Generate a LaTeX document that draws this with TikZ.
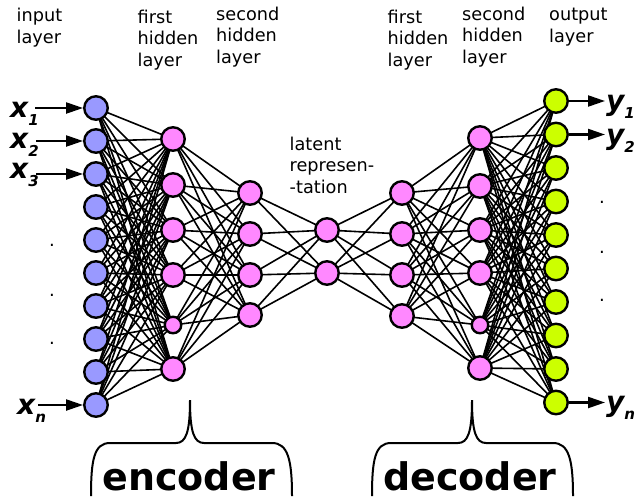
\documentclass[tikz,border=0pt]{standalone}
\usepackage{fontspec}
\setmainfont{DejaVu Sans}
\usetikzlibrary{arrows.meta,backgrounds}
\definecolor{inblue}{HTML}{9999FF}
\definecolor{hpink}{HTML}{FF88FF}
\definecolor{outgreen}{HTML}{CCFF00}
\newcommand\iolabel[2]{{\fontsize{28}{28}\selectfont\bfseries\itshape #1}\raisebox{-8pt}{\fontsize{15}{15}\selectfont\bfseries\itshape #2}}
\begin{document}
\begin{tikzpicture}[x=1pt,y=-1pt,
  neuron/.style={circle,draw=black,line width=2.4pt,minimum size=23.5pt,inner sep=0pt},
  inneuron/.style={neuron,fill=inblue},
  hidneuron/.style={neuron,fill=hpink},
  smallneuron/.style={neuron,fill=hpink,minimum size=16.5pt},
  outneuron/.style={neuron,fill=outgreen},
  link/.style={line width=1.6pt},
  io/.style={line width=2.2pt,-{Triangle[length=17pt,width=11pt]}},
  lbl/.style={align=left,anchor=base west,inner sep=0pt,font=\fontsize{17.7}{21.5}\selectfont},
  iolab/.style={anchor=base west,inner sep=0pt},
  dotlbl/.style={inner sep=0pt,font=\fontsize{18}{18}\selectfont},
  part/.style={anchor=base,inner sep=0pt,font=\fontsize{38}{38}\selectfont\bfseries},
  bracestyle/.style={line width=2pt}
]
\useasboundingbox (0,0) rectangle (639,496);

% layer labels (anchor at baseline of last line)
\node[lbl] (linput) at (16.5,43) {input\\layer};
\node[lbl] (lh1) at (137.5,66) {first\\hidden\\layer};
\node[lbl] (lh2) at (216,63) {second\\hidden\\layer};
\node[lbl] (lh3) at (387.5,66) {first\\hidden\\layer};
\node[lbl] (lh4) at (462,63) {second\\hidden\\layer};
\node[lbl] (lout) at (549,42) {output\\layer};
\node[lbl] (llat) at (289.5,193) {latent\\represen-\\-tation};

% neurons
\foreach \i/\y in {1/108,2/141,3/174,4/207,5/240,6/273,7/306,8/339,9/372,10/405}
  \node[inneuron] (in\i) at (96,\y) {};
\foreach \i/\y in {1/139,2/185,3/230,4/275,6/369}
  \node[hidneuron] (ea\i) at (173,\y) {};
\node[smallneuron] (ea5) at (173,325) {};
\foreach \i/\y in {1/193,2/234,3/275,4/315}
  \node[hidneuron] (eb\i) at (250,\y) {};
\foreach \i/\y in {1/230,2/273}
  \node[hidneuron] (lt\i) at (327,\y) {};
\foreach \i/\y in {1/193,2/234,3/275,4/316}
  \node[hidneuron] (da\i) at (402,\y) {};
\foreach \i/\y in {1/138,2/186,3/230,4/273,6/368}
  \node[hidneuron] (db\i) at (480,\y) {};
\node[smallneuron] (db5) at (480,325) {};
\foreach \i/\y in {1/101,2/134.5,3/168,4/201.5,5/235,6/268.5,7/302,8/335.5,9/369,10/402.5}
  \node[outneuron] (out\i) at (556,\y) {};

% connections
\begin{pgfonlayer}{background}
\foreach \a in {1,...,10} \foreach \b in {1,...,6} \draw[link] (in\a.center) -- (ea\b.center);
\foreach \a in {1,...,6} \foreach \b in {1,...,4} \draw[link] (ea\a.center) -- (eb\b.center);
\foreach \a in {1,...,4} \foreach \b in {1,2} \draw[link] (eb\a.center) -- (lt\b.center);
\foreach \a in {1,2} \foreach \b in {1,...,4} \draw[link] (lt\a.center) -- (da\b.center);
\foreach \a in {1,...,4} \foreach \b in {1,...,6} \draw[link] (da\a.center) -- (db\b.center);
\foreach \a in {1,...,6} \foreach \b in {1,...,10} \draw[link] (db\a.center) -- (out\b.center);
\end{pgfonlayer}

% inputs
\node[iolab] (x1) at (10,117) {\iolabel{x}{1}};
\node[iolab] (x2) at (10,148) {\iolabel{x}{2}};
\node[iolab] (x3) at (10,178) {\iolabel{x}{3}};
\node[iolab] (xn) at (17,414) {\iolabel{x}{n}};
\coordinate (xs1) at (35,108);
\coordinate (xs2) at (36,141);
\coordinate (xs3) at (36,174);
\coordinate (xsn) at (38,405);
\draw[io] (xs1) -- (in1);
\draw[io] (xs2) -- (in2);
\draw[io] (xs3) -- (in3);
\draw[io] (xsn) -- (in10);

% outputs
\coordinate (ye1) at (605,101);
\coordinate (ye2) at (605,134.5);
\coordinate (yen) at (605,402.5);
\draw[io] (out1) -- (ye1);
\draw[io] (out2) -- (ye2);
\draw[io] (out10) -- (yen);
\node[iolab] (y1) at (606,110) {\iolabel{y}{1}};
\node[iolab] (y2) at (606,144) {\iolabel{y}{2}};
\node[iolab] (yn) at (606,411) {\iolabel{y}{n}};

% dots
\node[dotlbl] (dl1) at (52,245) {.};
\node[dotlbl] (dl2) at (52,295) {.};
\node[dotlbl] (dl3) at (52,343) {.};
\node[dotlbl] (dr1) at (602,202) {.};
\node[dotlbl] (dr2) at (602,252) {.};
\node[dotlbl] (dr3) at (602,300) {.};

% braces
\draw[bracestyle] (91,496) .. controls (91,460) and (94,443) .. (110,443)
  -- (176,443) .. controls (186,443) and (190,432) .. (190,400)
  .. controls (190,432) and (194,443) .. (204,443)
  -- (272,443) .. controls (288,443) and (292,460) .. (292,496);
\draw[bracestyle] (372,496) .. controls (372,460) and (375,443) .. (391,443)
  -- (458,443) .. controls (468,443) and (472,432) .. (472,400)
  .. controls (472,432) and (476,443) .. (486,443)
  -- (553,443) .. controls (569,443) and (573,460) .. (573,496);
\node[part] (enc) at (189,490) {encoder};
\node[part] (dec) at (470,490) {decoder};
\end{tikzpicture}
\end{document}
